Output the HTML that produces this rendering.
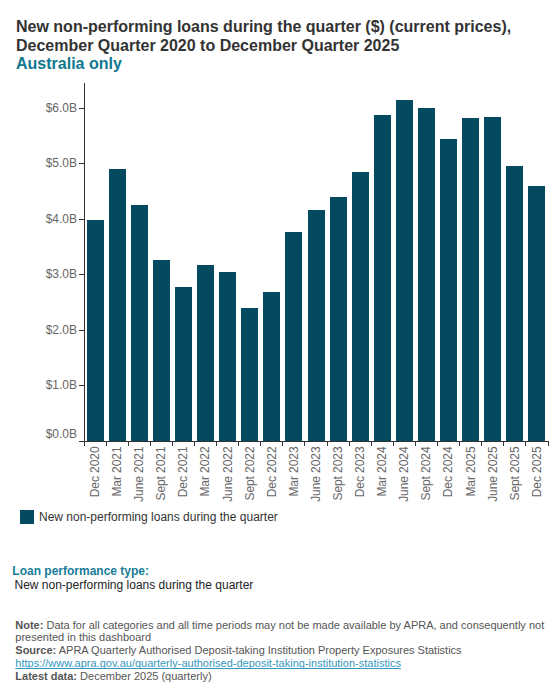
<!DOCTYPE html>
<html><head><meta charset="utf-8">
<style>
html,body{margin:0;padding:0;background:#fff;width:560px;height:700px;overflow:hidden;}
body{position:relative;font-family:"Liberation Sans",sans-serif;}
.t{position:absolute;white-space:nowrap;}
svg text{font-family:"Liberation Sans",sans-serif;}
</style></head><body>
<div class="t" style="left:16px;top:18.25px;font-size:16px;font-weight:bold;line-height:18.4px;color:#333;">New non-performing loans during the quarter ($) (current prices),<br>December Quarter 2020 to December Quarter 2025<br><span style="color:#10788f">Australia only</span></div>
<svg style="position:absolute;left:0;top:0" width="560" height="560">
<rect x="87.00" y="220" width="17" height="221" fill="#034a61"/>
<rect x="109.00" y="169" width="17" height="272" fill="#034a61"/>
<rect x="131.00" y="205" width="17" height="236" fill="#034a61"/>
<rect x="153.00" y="260" width="17" height="181" fill="#034a61"/>
<rect x="175.00" y="287" width="17" height="154" fill="#034a61"/>
<rect x="197.00" y="265" width="17" height="176" fill="#034a61"/>
<rect x="219.00" y="272" width="17" height="169" fill="#034a61"/>
<rect x="241.00" y="308" width="17" height="133" fill="#034a61"/>
<rect x="263.00" y="292" width="17" height="149" fill="#034a61"/>
<rect x="285.00" y="232" width="17" height="209" fill="#034a61"/>
<rect x="308.00" y="210" width="17" height="231" fill="#034a61"/>
<rect x="330.00" y="197" width="17" height="244" fill="#034a61"/>
<rect x="352.00" y="172" width="17" height="269" fill="#034a61"/>
<rect x="374.00" y="115" width="17" height="326" fill="#034a61"/>
<rect x="396.00" y="100" width="17" height="341" fill="#034a61"/>
<rect x="418.00" y="108" width="17" height="333" fill="#034a61"/>
<rect x="440.00" y="139" width="17" height="302" fill="#034a61"/>
<rect x="462.00" y="118" width="17" height="323" fill="#034a61"/>
<rect x="484.00" y="117" width="17" height="324" fill="#034a61"/>
<rect x="506.00" y="166" width="17" height="275" fill="#034a61"/>
<rect x="528.00" y="186" width="17" height="255" fill="#034a61"/>
<line x1="84.5" y1="83" x2="84.5" y2="441" stroke="#333333" stroke-width="1"/>
<line x1="79" y1="441.5" x2="549" y2="441.5" stroke="#333333" stroke-width="1"/>
<line x1="79" y1="441.5" x2="84" y2="441.5" stroke="#333333" stroke-width="1"/>
<text x="77" y="438" text-anchor="end" font-size="12" fill="#666666">$0.0B</text>
<line x1="79" y1="385.5" x2="84" y2="385.5" stroke="#333333" stroke-width="1"/>
<text x="77" y="389.0" text-anchor="end" font-size="12" fill="#666666">$1.0B</text>
<line x1="79" y1="330.5" x2="84" y2="330.5" stroke="#333333" stroke-width="1"/>
<text x="77" y="333.5" text-anchor="end" font-size="12" fill="#666666">$2.0B</text>
<line x1="79" y1="274.5" x2="84" y2="274.5" stroke="#333333" stroke-width="1"/>
<text x="77" y="278.0" text-anchor="end" font-size="12" fill="#666666">$3.0B</text>
<line x1="79" y1="219.5" x2="84" y2="219.5" stroke="#333333" stroke-width="1"/>
<text x="77" y="222.5" text-anchor="end" font-size="12" fill="#666666">$4.0B</text>
<line x1="79" y1="163.5" x2="84" y2="163.5" stroke="#333333" stroke-width="1"/>
<text x="77" y="167.0" text-anchor="end" font-size="12" fill="#666666">$5.0B</text>
<line x1="79" y1="108.5" x2="84" y2="108.5" stroke="#333333" stroke-width="1"/>
<text x="77" y="111.5" text-anchor="end" font-size="12" fill="#666666">$6.0B</text>
<line x1="84.5" y1="441" x2="84.5" y2="446" stroke="#333333" stroke-width="1"/>
<line x1="106.5" y1="441" x2="106.5" y2="446" stroke="#333333" stroke-width="1"/>
<line x1="128.5" y1="441" x2="128.5" y2="446" stroke="#333333" stroke-width="1"/>
<line x1="150.5" y1="441" x2="150.5" y2="446" stroke="#333333" stroke-width="1"/>
<line x1="172.5" y1="441" x2="172.5" y2="446" stroke="#333333" stroke-width="1"/>
<line x1="194.5" y1="441" x2="194.5" y2="446" stroke="#333333" stroke-width="1"/>
<line x1="216.5" y1="441" x2="216.5" y2="446" stroke="#333333" stroke-width="1"/>
<line x1="238.5" y1="441" x2="238.5" y2="446" stroke="#333333" stroke-width="1"/>
<line x1="260.5" y1="441" x2="260.5" y2="446" stroke="#333333" stroke-width="1"/>
<line x1="282.5" y1="441" x2="282.5" y2="446" stroke="#333333" stroke-width="1"/>
<line x1="304.5" y1="441" x2="304.5" y2="446" stroke="#333333" stroke-width="1"/>
<line x1="327.5" y1="441" x2="327.5" y2="446" stroke="#333333" stroke-width="1"/>
<line x1="349.5" y1="441" x2="349.5" y2="446" stroke="#333333" stroke-width="1"/>
<line x1="371.5" y1="441" x2="371.5" y2="446" stroke="#333333" stroke-width="1"/>
<line x1="393.5" y1="441" x2="393.5" y2="446" stroke="#333333" stroke-width="1"/>
<line x1="415.5" y1="441" x2="415.5" y2="446" stroke="#333333" stroke-width="1"/>
<line x1="437.5" y1="441" x2="437.5" y2="446" stroke="#333333" stroke-width="1"/>
<line x1="459.5" y1="441" x2="459.5" y2="446" stroke="#333333" stroke-width="1"/>
<line x1="481.5" y1="441" x2="481.5" y2="446" stroke="#333333" stroke-width="1"/>
<line x1="503.5" y1="441" x2="503.5" y2="446" stroke="#333333" stroke-width="1"/>
<line x1="525.5" y1="441" x2="525.5" y2="446" stroke="#333333" stroke-width="1"/>
<line x1="548.5" y1="441" x2="548.5" y2="446" stroke="#333333" stroke-width="1"/>
<text transform="translate(98.95,446.5) rotate(-90)" text-anchor="end" font-size="12" letter-spacing="-0.08" fill="#666666">Dec 2020</text>
<text transform="translate(121.04,446.5) rotate(-90)" text-anchor="end" font-size="12" letter-spacing="-0.08" fill="#666666">Mar 2021</text>
<text transform="translate(143.14,446.5) rotate(-90)" text-anchor="end" font-size="12" letter-spacing="-0.08" fill="#666666">June 2021</text>
<text transform="translate(165.23,446.5) rotate(-90)" text-anchor="end" font-size="12" letter-spacing="-0.08" fill="#666666">Sept 2021</text>
<text transform="translate(187.33,446.5) rotate(-90)" text-anchor="end" font-size="12" letter-spacing="-0.08" fill="#666666">Dec 2021</text>
<text transform="translate(209.42,446.5) rotate(-90)" text-anchor="end" font-size="12" letter-spacing="-0.08" fill="#666666">Mar 2022</text>
<text transform="translate(231.52,446.5) rotate(-90)" text-anchor="end" font-size="12" letter-spacing="-0.08" fill="#666666">June 2022</text>
<text transform="translate(253.61,446.5) rotate(-90)" text-anchor="end" font-size="12" letter-spacing="-0.08" fill="#666666">Sept 2022</text>
<text transform="translate(275.71,446.5) rotate(-90)" text-anchor="end" font-size="12" letter-spacing="-0.08" fill="#666666">Dec 2022</text>
<text transform="translate(297.80,446.5) rotate(-90)" text-anchor="end" font-size="12" letter-spacing="-0.08" fill="#666666">Mar 2023</text>
<text transform="translate(319.90,446.5) rotate(-90)" text-anchor="end" font-size="12" letter-spacing="-0.08" fill="#666666">June 2023</text>
<text transform="translate(342.00,446.5) rotate(-90)" text-anchor="end" font-size="12" letter-spacing="-0.08" fill="#666666">Sept 2023</text>
<text transform="translate(364.09,446.5) rotate(-90)" text-anchor="end" font-size="12" letter-spacing="-0.08" fill="#666666">Dec 2023</text>
<text transform="translate(386.19,446.5) rotate(-90)" text-anchor="end" font-size="12" letter-spacing="-0.08" fill="#666666">Mar 2024</text>
<text transform="translate(408.28,446.5) rotate(-90)" text-anchor="end" font-size="12" letter-spacing="-0.08" fill="#666666">June 2024</text>
<text transform="translate(430.38,446.5) rotate(-90)" text-anchor="end" font-size="12" letter-spacing="-0.08" fill="#666666">Sept 2024</text>
<text transform="translate(452.47,446.5) rotate(-90)" text-anchor="end" font-size="12" letter-spacing="-0.08" fill="#666666">Dec 2024</text>
<text transform="translate(474.57,446.5) rotate(-90)" text-anchor="end" font-size="12" letter-spacing="-0.08" fill="#666666">Mar 2025</text>
<text transform="translate(496.66,446.5) rotate(-90)" text-anchor="end" font-size="12" letter-spacing="-0.08" fill="#666666">June 2025</text>
<text transform="translate(518.76,446.5) rotate(-90)" text-anchor="end" font-size="12" letter-spacing="-0.08" fill="#666666">Sept 2025</text>
<text transform="translate(540.85,446.5) rotate(-90)" text-anchor="end" font-size="12" letter-spacing="-0.08" fill="#666666">Dec 2025</text>
</svg>
<div style="position:absolute;left:20px;top:510px;width:14px;height:14px;background:#034a61"></div>
<div class="t" style="left:39px;top:510px;font-size:12px;line-height:14px;color:#333">New non-performing loans during the quarter</div>
<div class="t" style="left:12.3px;top:564px;font-size:12px;line-height:14px;font-weight:bold;color:#187d98">Loan performance type:</div>
<div class="t" style="left:14.5px;top:577.5px;font-size:12px;line-height:14px;color:#222">New non-performing loans during the quarter</div>
<div class="t" style="left:15.3px;top:618.5px;font-size:11px;line-height:12.8px;color:#555"><b>Note:</b> Data for all categories and all time periods may not be made available by APRA, and consequently not<br>presented in this dashboard<br><b>Source:</b> APRA Quarterly Authorised Deposit-taking Institution Property Exposures Statistics<br><span style="color:#3597bd;text-decoration:underline;text-decoration-skip-ink:none;text-underline-offset:1px">https://www.apra.gov.au/quarterly-authorised-deposit-taking-institution-statistics</span><br><b>Latest data:</b> December 2025 (quarterly)</div>
</body></html>
